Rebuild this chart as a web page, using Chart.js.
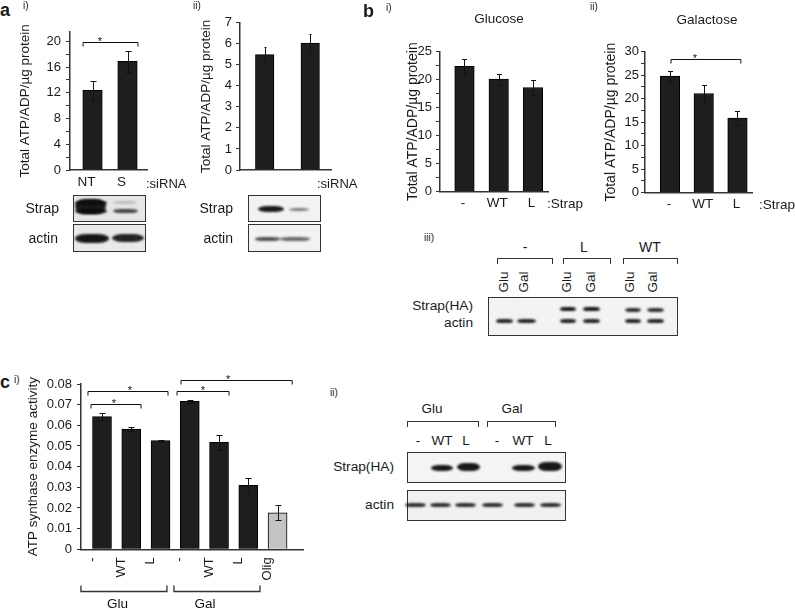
<!DOCTYPE html>
<html><head><meta charset="utf-8">
<script src="https://cdn.jsdelivr.net/npm/chart.js@4/dist/chart.umd.min.js"></script>
<style>
html,body{margin:0;padding:0;background:#fff;}
#fig{position:relative;width:795px;height:611px;overflow:hidden;font-family:"Liberation Sans",Arial,sans-serif;color:#1a1a1a;}
.t{position:absolute;white-space:nowrap;line-height:1;}
canvas{position:absolute;}
.box{position:absolute;border:1.5px solid #333;box-sizing:border-box;}
.band{position:absolute;border-radius:35%/50%;filter:blur(0.8px);}
.brk{position:absolute;box-sizing:border-box;border:1.3px solid #333;}
</style></head>
<body><div id="fig"></div>
<script>
// ---------------- data ----------------
const aCats = ["NT", "S"];
const aiValues = [12.4, 16.9];
const aiErrors = [1.5, 1.6];
const aiiValues = [5.48, 6.03];
const aiiErrors = [0.35, 0.43];
const bCats = ["-", "WT", "L"];
const biValues = [22.4, 20.1, 18.6];
const biErrors = [1.3, 1.0, 1.4];
const biiValues = [24.8, 21.1, 15.9];
const biiErrors = [1.1, 1.8, 1.5];
const cCats = ["-", "WT", "L", "-", "WT", "L", "Olig"];
const cValues = [0.0642, 0.0582, 0.0526, 0.0716, 0.0518, 0.031, 0.0177];
const cErrors = [0.0016, 0.0008, 0.0005, 0.0008, 0.0037, 0.0037, 0.0035];
const cGroups = ["Glu", "Gal"];
const aTicks = { i: { max: 21.5, step: 2, major: 4 }, ii: { max: 7, step: 1, major: 1 } };
const bTicks = { i: { max: 25, step: 2.5, major: 5 }, ii: { max: 30, step: 2.5, major: 5 } };
const cTicks = { max: 0.08, step: 0.01 };

const FONT = '"Liberation Sans", Arial, sans-serif';
Chart.defaults.font.family = FONT;
Chart.defaults.color = '#1a1a1a';
const fig = document.getElementById('fig');

// ---------------- plugin: error bars, significance brackets, group brackets ----------------
const annot = {
  id: 'annot',
  afterDatasetsDraw(chart, args, o) {
    const ctx = chart.ctx, xs = chart.scales.x, ys = chart.scales.y;
    const ds = chart.data.datasets[0];
    ctx.save();
    ctx.strokeStyle = '#111'; ctx.lineWidth = 1; ctx.fillStyle = '#111';
    (o.errors || []).forEach((e, i) => {
      const p = ds.data[i];
      const x = Math.round(xs.getPixelForValue(p.x)) + 0.5;
      const yt = Math.round(ys.getPixelForValue(p.y + e)) + 0.5;
      const yb = Math.round(ys.getPixelForValue(p.y - e)) + 0.5;
      const c = o.cap / 2;
      ctx.beginPath();
      ctx.moveTo(x, yb); ctx.lineTo(x, yt);
      ctx.moveTo(x - c, yt); ctx.lineTo(x + c, yt);
      ctx.moveTo(x - c, yb); ctx.lineTo(x + c, yb);
      ctx.stroke();
    });
    (o.brackets || []).forEach(b => {
      const x1 = xs.getPixelForValue(b.from), x2 = xs.getPixelForValue(b.to);
      const y = Math.round(ys.getPixelForValue(b.y)) + 0.5;
      ctx.beginPath();
      ctx.moveTo(x1, y + 4); ctx.lineTo(x1, y); ctx.lineTo(x2, y); ctx.lineTo(x2, y + 4);
      ctx.stroke();
      ctx.font = '11px ' + FONT; ctx.textAlign = 'center'; ctx.textBaseline = 'alphabetic';
      ctx.fillText('*', xs.getPixelForValue(b.star), y + 2);
    });
    (o.groups || []).forEach(g => {
      const x1 = xs.getPixelForValue(g.from), x2 = xs.getPixelForValue(g.to);
      const y = Math.round(chart.chartArea.bottom + o.groupDy) + 0.5;
      ctx.lineWidth = 1.3; ctx.strokeStyle = '#333';
      ctx.beginPath();
      ctx.moveTo(x1, y - 6); ctx.lineTo(x1, y); ctx.lineTo(x2, y); ctx.lineTo(x2, y - 6);
      ctx.stroke();
      ctx.font = '13.5px ' + FONT; ctx.textAlign = 'center'; ctx.textBaseline = 'middle';
      ctx.fillText(g.label, xs.getPixelForValue(g.labelAt), y + 12.5);
    });
    ctx.restore();
  }
};

function makeChart(c) {
  const cl = Math.round(c.titleX - c.titleSize * 0.6);
  const yW = c.plotLeft - cl;
  const W = Math.round(c.plotRight + 3 - cl), H = Math.round(c.cb - c.ct);
  const cv = document.createElement('canvas');
  cv.width = W; cv.height = H;
  Object.assign(cv.style, { left: cl + 'px', top: c.ct + 'px', width: W + 'px', height: H + 'px' });
  fig.appendChild(cv);
  const cats = c.cats;
  new Chart(cv, {
    type: 'bar',
    data: {
      datasets: [{
        data: c.values.map((v, i) => ({ x: i, y: v })),
        backgroundColor: c.colors || '#1e1e1e',
        borderColor: '#000', borderWidth: 1,
        barThickness: c.barW
      }]
    },
    options: {
      responsive: false, animation: false, devicePixelRatio: 1,
      layout: { padding: { top: c.plotTop - c.ct, right: 3, left: 0, bottom: 0 } },
      plugins: { legend: { display: false }, tooltip: { enabled: false }, annot: c.annot },
      scales: {
        x: {
          type: 'linear', min: c.xmin, max: c.xmax, offset: false,
          grid: { display: false, drawTicks: false },
          border: { display: true, color: '#333', width: 1.5 },
          ticks: {
            stepSize: 1, autoSkip: false, includeBounds: false,
            callback: v => { const k = Math.round(v); return Math.abs(v - k) < 1e-6 && cats[k] !== undefined ? cats[k] : ''; },
            font: { size: c.xFont || 13.5 }, color: '#1a1a1a',
            padding: c.xPad, labelOffset: c.labelOffset,
            minRotation: c.rot || 0, maxRotation: c.rot || 0
          },
          afterFit(s) { s.height = c.cb - c.plotBottom; }
        },
        y: {
          min: 0, max: c.ymax,
          grid: { drawOnChartArea: false, drawTicks: true, tickLength: 4, color: '#333', tickColor: '#333' },
          border: { display: true, color: '#333', width: 1.5 },
          ticks: {
            stepSize: c.ystep, autoSkip: false, includeBounds: false,
            callback: c.yLabel, font: { size: 13 }, color: '#1a1a1a', padding: c.yPad
          },
          title: { display: true, text: c.title, font: { size: c.titleSize }, color: '#1a1a1a', padding: 0 },
          afterFit(s) { s.width = yW; }
        }
      }
    },
    plugins: [annot]
  });
}

const majorLabel = m => v => (Math.abs(v / m - Math.round(v / m)) < 1e-6 ? String(Math.round(v * 100) / 100) : '');
const YT = 'Total ATP/ADP/\u00b5g protein';

// a i
makeChart({
  cats: aCats, values: aiValues, title: YT, titleSize: 13.5, titleX: 25.5,
  plotLeft: 70, plotTop: 31.7, plotRight: 147, plotBottom: 170, ct: 0, cb: 196,
  xmin: -0.643, xmax: 1.557, barW: 19.5, ymax: aTicks.i.max, ystep: aTicks.i.step,
  yLabel: majorLabel(aTicks.i.major), yPad: 5, xPad: 4, labelOffset: -6,
  annot: { errors: aiErrors, cap: 6, brackets: [{ from: -0.27, to: 1.3, y: 19.85, star: 0.21 }] }
});
// a ii
makeChart({
  cats: aCats, values: aiiValues, title: YT, titleSize: 13.5, titleX: 206.5,
  plotLeft: 240, plotTop: 22.7, plotRight: 332, plotBottom: 170, ct: 0, cb: 196,
  xmin: -0.543, xmax: 1.457, barW: 18.5, ymax: aTicks.ii.max, ystep: aTicks.ii.step,
  yLabel: majorLabel(aTicks.ii.major), yPad: 4, xPad: 4, labelOffset: -10,
  annot: { errors: aiiErrors, cap: 2 }
});
// b i
makeChart({
  cats: bCats, values: biValues, title: YT, titleSize: 14, titleX: 413,
  plotLeft: 440, plotTop: 51.7, plotRight: 548, plotBottom: 191.7, ct: 0, cb: 214,
  xmin: -0.715, xmax: 2.44, barW: 19.5, ymax: bTicks.i.max, ystep: bTicks.i.step,
  yLabel: majorLabel(bTicks.i.major), yPad: 4, xPad: 3.5, labelOffset: -1.5,
  annot: { errors: biErrors, cap: 5 }
});
// b ii
makeChart({
  cats: bCats, values: biiValues, title: YT, titleSize: 14, titleX: 611,
  plotLeft: 645, plotTop: 51.7, plotRight: 752, plotBottom: 192.7, ct: 0, cb: 214,
  xmin: -0.74, xmax: 2.43, barW: 19.5, ymax: bTicks.ii.max, ystep: bTicks.ii.step,
  yLabel: majorLabel(bTicks.ii.major), yPad: 2, xPad: 3.5, labelOffset: -1,
  annot: { errors: biiErrors, cap: 5, brackets: [{ from: 0.03, to: 2.1, y: 28.4, star: 0.74 }] }
});
// c i
makeChart({
  cats: cCats, values: cValues, title: 'ATP synthase enzyme activity', titleSize: 13.5, titleX: 33,
  colors: cValues.map((v, i) => cCats[i] === 'Olig' ? '#c4c4c4' : '#1e1e1e'),
  plotLeft: 81, plotTop: 384, plotRight: 303, plotBottom: 549.3, ct: 360, cb: 611,
  xmin: -0.718, xmax: 6.87, barW: 19, ymax: cTicks.max, ystep: cTicks.step,
  yLabel: v => (v === 0 ? '0' : v.toFixed(2)), yPad: 5, xPad: 8, labelOffset: -10, rot: 90, xFont: 13,
  annot: {
    errors: cErrors, cap: 6,
    brackets: [
      { from: -0.376, to: 1.333, y: 0.0702, star: 0.41 },
      { from: -0.48, to: 2.256, y: 0.0768, star: 0.957 },
      { from: 2.564, to: 4.342, y: 0.0768, star: 3.45 },
      { from: 2.70, to: 6.50, y: 0.0819, star: 4.31 }
    ],
    groupDy: 41.4,
    groups: [
      { from: -0.72, to: 2.22, label: cGroups[0], labelAt: 0.53 },
      { from: 2.46, to: 5.4, label: cGroups[1], labelAt: 3.52 }
    ]
  }
});

// ---------------- text, blots ----------------
function T(text, x, y, o = {}) {
  const d = document.createElement('div'); d.className = 't'; d.textContent = text;
  d.style.fontSize = (o.size || 13.5) + 'px';
  if (o.bold) d.style.fontWeight = 'bold';
  d.style.left = x + 'px'; d.style.top = y + 'px';
  const tx = o.anchor === 'r' ? '-100%' : o.anchor === 'l' ? '0' : '-50%';
  d.style.transform = `translate(${tx},-50%)` + (o.rot ? ` rotate(${o.rot}deg)` : '');
  fig.appendChild(d);
}
function box(x, y, w, h, bg) {
  const d = document.createElement('div'); d.className = 'box';
  Object.assign(d.style, { left: x + 'px', top: y + 'px', width: w + 'px', height: h + 'px', background: bg || '#efefef' });
  fig.appendChild(d);
}
function band(cx, cy, w, h, a) {
  const d = document.createElement('div'); d.className = 'band';
  Object.assign(d.style, { left: (cx - w / 2) + 'px', top: (cy - h / 2) + 'px', width: w + 'px', height: h + 'px', background: `rgba(12,12,12,${a})` });
  fig.appendChild(d);
}
function brk(x1, x2, y, h) {
  const d = document.createElement('div'); d.className = 'brk';
  Object.assign(d.style, { left: x1 + 'px', top: y + 'px', width: (x2 - x1) + 'px', height: h + 'px', borderBottom: 'none' });
  fig.appendChild(d);
}

// panel letters
T('a', 0, 10, { size: 18, bold: true, anchor: 'l' });
T('i)', 23, 6, { size: 10, anchor: 'l' });
T('ii)', 193, 6, { size: 10, anchor: 'l' });
T('b', 363, 11, { size: 18, bold: true, anchor: 'l' });
T('i)', 386, 8, { size: 10, anchor: 'l' });
T('ii)', 590, 7, { size: 10, anchor: 'l' });
T('iii)', 424, 238, { size: 10, anchor: 'l' });
T('c', 0, 382, { size: 18, bold: true, anchor: 'l' });
T('i)', 14, 380, { size: 10, anchor: 'l' });
T('ii)', 330, 393, { size: 10, anchor: 'l' });

T(':siRNA', 146, 183, { size: 13, anchor: 'l' });
T(':siRNA', 317, 183, { size: 13, anchor: 'l' });
T(':Strap', 547, 204, { size: 13.5, anchor: 'l' });
T(':Strap', 759, 205, { size: 13.5, anchor: 'l' });
T('Glucose', 499, 19, { size: 13.5 });
T('Galactose', 707, 20, { size: 13.5 });

// a i blot
T('Strap', 59, 208, { size: 14, anchor: 'r' });
T('actin', 58, 238, { size: 14, anchor: 'r' });
box(73, 195, 73, 27, '#e6e6e6');
band(90.5, 206.5, 31, 15, 0.9); band(90.5, 202.5, 32, 6, 0.95); band(90.5, 210.5, 32, 6, 0.95);
band(125, 202, 24, 3, 0.2); band(125, 210.5, 25, 4, 0.75);
box(73, 224, 73, 28, '#e9e9e9');
band(91.5, 238, 34, 9, 0.95); band(127.5, 238, 32, 8, 0.9);

// a ii blot
T('Strap', 233, 208, { size: 14, anchor: 'r' });
T('actin', 233, 238, { size: 14, anchor: 'r' });
box(248, 195, 73, 27, '#f2f2f2');
band(270.5, 208.5, 26, 6, 0.95); band(298.5, 209, 20, 3, 0.5);
box(248, 224, 73, 28, '#f2f2f2');
band(267, 239, 25, 3.5, 0.7); band(295, 239, 30, 3.5, 0.6);

// b iii blot
T('-', 525, 247, { size: 14 }); T('L', 584, 247, { size: 14 }); T('WT', 650, 247, { size: 14 });
brk(497, 553, 258, 6); brk(563, 611, 258, 6); brk(623, 678, 258, 6);
[504, 567, 630].forEach(x => T('Glu', x, 282, { size: 13.5, rot: -90 }));
[524, 591, 653].forEach(x => T('Gal', x, 282, { size: 13.5, rot: -90 }));
T('Strap(HA)', 473, 306, { size: 13.7, anchor: 'r' });
T('actin', 473, 323, { size: 13.7, anchor: 'r' });
box(488, 297, 190, 39, '#f3f3f3');
[[504.5, 17], [526, 19], [567.5, 16], [591, 17], [632.5, 16], [655, 17]].forEach(([x, w]) => band(x, 321, w, 4.5, 0.9));
band(567.5, 309, 16, 4.5, 0.95); band(591, 309, 17, 4.5, 0.95);
band(632.5, 310, 16, 4, 0.85); band(655, 310, 17, 4, 0.85);

// c ii blot
T('Glu', 432, 409, { size: 13.5 }); T('Gal', 512, 409, { size: 13.5 });
brk(407, 479, 421, 6); brk(487, 556, 421, 6);
T('-', 418, 441, { size: 13.5 }); T('WT', 442, 441, { size: 13.5 }); T('L', 466, 441, { size: 13.5 });
T('-', 497, 441, { size: 13.5 }); T('WT', 523, 441, { size: 13.5 }); T('L', 548, 441, { size: 13.5 });
T('Strap(HA)', 394, 467, { size: 13.7, anchor: 'r' });
T('actin', 394, 505, { size: 13.7, anchor: 'r' });
box(407, 452, 159, 31, '#f4f4f4');
band(442, 467.5, 22, 6, 0.95); band(468, 466.5, 23, 8, 0.95);
band(523, 468, 23, 6, 0.95); band(549.5, 466.5, 24, 9, 0.95);
box(407, 490, 159, 31, '#f1f1f1');
[415, 440, 465, 492, 524, 550].forEach(x => band(x, 505, 21, 4.5, 0.85));
</script>
</body></html>
